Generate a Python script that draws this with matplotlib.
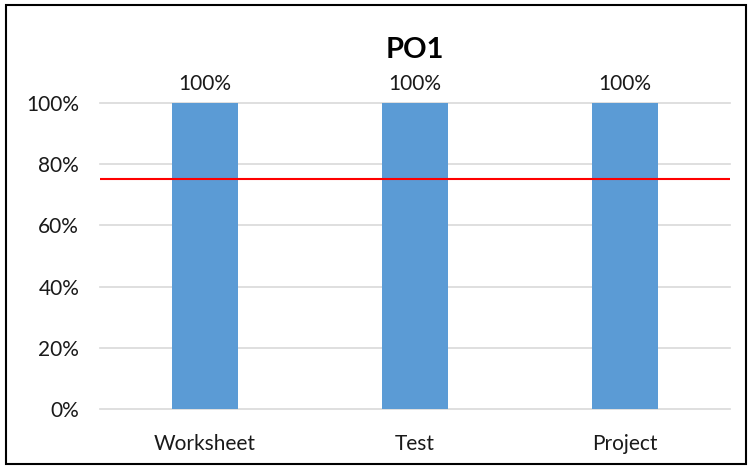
"""PO1 attainment bar chart, Excel-style."""

import matplotlib
matplotlib.use("Agg")
import matplotlib.pyplot as plt
import matplotlib.patches as patches
import matplotlib.ticker as ticker

categories = ["Worksheet", "Test", "Project"]
values = [1.0, 1.0, 1.0]
target = 0.75
yticks = [0.0, 0.2, 0.4, 0.6, 0.8, 1.0]

plt.rcParams["font.family"] = ["Lato", "DejaVu Sans"]

fig = plt.figure(figsize=(7.52, 4.69), dpi=100)
ax = fig.add_axes([100 / 752, 1 - 409 / 469, 630 / 752, 306 / 469])

x = list(range(len(categories)))
ax.bar(x, values, width=0.314, color="#5B9BD5", zorder=2)
ax.axhline(target, color="#FF0000", linewidth=1.5, zorder=3)

for xi, v in zip(x, values):
    ax.text(xi, v + 0.03, f"{v:.0%}", ha="center", va="bottom", fontsize=15, color="#1a1a1a")

ax.set_xlim(-0.5, len(categories) - 0.5)
ax.set_ylim(0, 1.0)
ax.set_yticks(yticks)
ax.yaxis.set_major_formatter(ticker.PercentFormatter(1.0, decimals=0))
ax.set_xticks(x)
ax.set_xticklabels(categories)
ax.tick_params(axis="both", length=0, labelsize=15, colors="#1a1a1a")
ax.tick_params(axis="x", pad=18)
ax.tick_params(axis="y", pad=15)
ax.grid(axis="y", color="#D9D9D9", linewidth=1.2, zorder=0)
for line in ax.get_ygridlines():
    line.set_clip_on(False)
for s in ax.spines.values():
    s.set_visible(False)

fig.text(415 / 752, 1 - 50 / 469, "PO1", ha="center", va="center", fontsize=21, fontweight="bold")

# outer chart border
fig.patches.append(patches.Rectangle((6 / 752, 5 / 469), 740 / 752, 459 / 469,
                                     transform=fig.transFigure, fill=False,
                                     edgecolor="black", linewidth=1.5))

fig.savefig("out.png", dpi=100)
